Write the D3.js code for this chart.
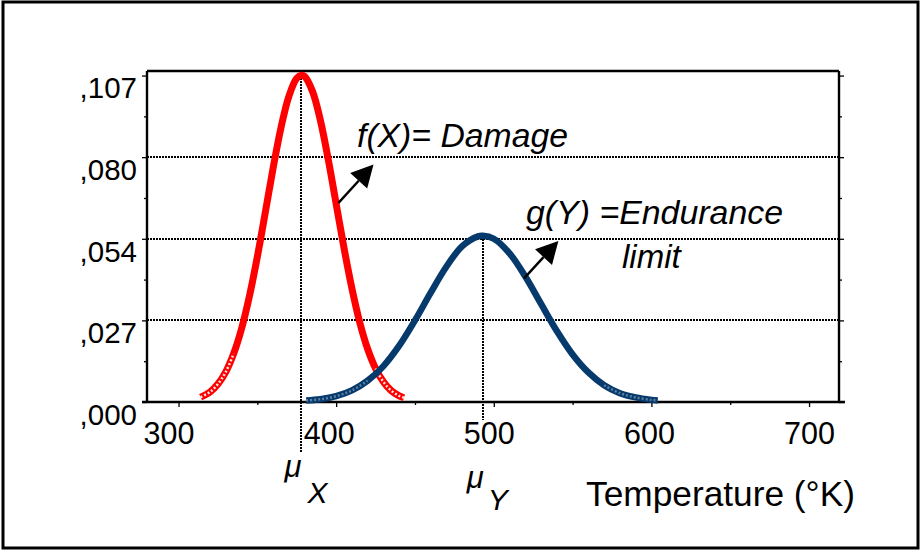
<!DOCTYPE html>
<meta charset="utf-8">
<head>
<title>damage / endurance</title>
<script src="https://d3js.org/d3.v7.min.js"></script>
<style>
body { margin: 0; background: #fff; }
text { font-family: "Liberation Sans", Arial, sans-serif; fill: #000; }
</style>
</head>
<body>

<div id="chart"></div>

<script>

const width = 920;
const height = 553;

// f(X) = Damage
const damageT = [314, 320, 325, 330, 335, 340, 345, 350, 355, 360, 365, 370, 375, 378,
  380, 385, 390, 395, 400, 405, 410, 415, 420, 425, 430, 435, 440, 443];
const damageV = [0.0016, 0.0033, 0.0059, 0.0099, 0.0159, 0.0241, 0.0348, 0.0477, 0.0621, 0.0768,
  0.0901, 0.1004, 0.1063, 0.1073, 0.1069, 0.1020, 0.0925, 0.0796, 0.0651, 0.0505,
  0.0373, 0.0261, 0.0174, 0.0110, 0.0066, 0.0037, 0.0020, 0.0014];

// g(Y) = Endurance limit
const enduranceT = [381, 390, 400, 410, 420, 430, 440, 450, 460, 470, 480, 490, 493,
  500, 510, 520, 530, 540, 550, 560, 570, 580, 590, 600, 604];
const enduranceV = [0.0005, 0.0009, 0.0019, 0.0038, 0.0070, 0.0118, 0.0185, 0.0268, 0.0359,
  0.0445, 0.0512, 0.0544, 0.0546, 0.0536, 0.0488, 0.0412, 0.0322, 0.0233, 0.0156,
  0.0097, 0.0055, 0.0029, 0.0015, 0.0007, 0.0005];

const xTicks = [300, 400, 500, 600, 700];
const xMinor = [350, 450, 550, 650];
const yTicks = [0, 0.0268, 0.0536, 0.0804, 0.1072];
const yTickLabels = [",000", ",027", ",054", ",080", ",107"];
const yMinor = [0.0134, 0.0402, 0.0670, 0.0938];
const gridValues = [0.0268, 0.0536, 0.0804];
const muX = 378;
const muY = 493;

const margin = {top: 71, right: 81, bottom: 151, left: 147};

const svg = d3.select('#chart')
  .append("svg")
  .attr("width", width)
  .attr("height", height)
  .attr("viewBox", [0, 0, width, height]);

svg.append("rect")
  .attr("width", width).attr("height", height)
  .attr("fill", "#fff");

// outer frame
svg.append("rect")
  .attr("x", 3).attr("y", 2)
  .attr("width", 915).attr("height", 546)
  .attr("fill", "none")
  .attr("stroke", "#000")
  .attr("stroke-width", 3);

const x = d3.scaleLinear()
  .domain([280, 719])
  .range([margin.left, width - margin.right]);

const y = d3.scaleLinear()
  .domain([0, 0.1087])
  .range([height - margin.bottom, margin.top]);

const x0 = x.range()[0], x1 = x.range()[1];
const yb = y.range()[0], yt = y.range()[1];

// dotted grid
svg.append("g")
  .attr("shape-rendering", "crispEdges")
  .selectAll("line")
  .data(gridValues)
  .join("line")
    .attr("x1", x0).attr("x2", x1)
    .attr("y1", d => Math.round(y(d))).attr("y2", d => Math.round(y(d)))
    .attr("stroke", "#000")
    .attr("stroke-width", 2)
    .attr("stroke-dasharray", "2 1");

// mean markers
const muLines = [
  {t: muX, top: 0.1064, bottom: -0.0168},
  {t: muY, top: 0.0536, bottom: -0.0059}
];
svg.append("g")
  .attr("shape-rendering", "crispEdges")
  .selectAll("line")
  .data(muLines)
  .join("line")
    .attr("x1", d => Math.round(x(d.t))).attr("x2", d => Math.round(x(d.t)))
    .attr("y1", d => y(d.top)).attr("y2", d => y(d.bottom))
    .attr("stroke", "#000")
    .attr("stroke-width", 2)
    .attr("stroke-dasharray", "2 1");

// axes
const tickStyle = g => {
  g.select(".domain").remove();
  g.selectAll(".tick line").attr("stroke", "#000").attr("stroke-width", 1.3);
};

svg.append("g")
  .attr("transform", `translate(${x0},0)`)
  .call(d3.axisLeft(y).tickValues(yTicks).tickSize(5).tickPadding(5)
    .tickFormat((d, i) => yTickLabels[i]))
  .call(tickStyle)
  .call(g => g.selectAll("text")
    .attr("font-size", 29.5)
    .attr("font-family", "Liberation Sans, Arial, sans-serif")
    .attr("dy", "0.76em"));

svg.append("g")
  .attr("transform", `translate(${x0},0)`)
  .call(d3.axisLeft(y).tickValues(yMinor).tickSize(3).tickFormat(""))
  .call(tickStyle);

svg.append("g")
  .attr("transform", `translate(${x1},0)`)
  .call(d3.axisRight(y).tickValues(yTicks).tickSize(5).tickFormat(""))
  .call(tickStyle);

svg.append("g")
  .attr("transform", `translate(${x1},0)`)
  .call(d3.axisRight(y).tickValues(yMinor).tickSize(3).tickFormat(""))
  .call(tickStyle);

svg.append("g")
  .attr("transform", `translate(0,${yb})`)
  .call(d3.axisBottom(x).tickValues(xTicks).tickSize(5).tickPadding(15))
  .call(tickStyle)
  .call(g => g.selectAll("text")
    .attr("font-size", 30.5)
    .attr("font-family", "Liberation Sans, Arial, sans-serif")
    .attr("dy", "0.71em")
    .attr("dx", d => -(700 - d) * 0.025));

svg.append("g")
  .attr("transform", `translate(0,${yb})`)
  .call(d3.axisBottom(x).tickValues(xMinor).tickSize(3).tickFormat(""))
  .call(tickStyle);

// box
const box = svg.append("g").attr("stroke", "#000").attr("fill", "none");
box.append("line").attr("x1", x0).attr("x2", x0).attr("y1", yt).attr("y2", yb).attr("stroke-width", 2.4);
box.append("line").attr("x1", x0).attr("x2", x1).attr("y1", yt).attr("y2", yt).attr("stroke-width", 2.4);
box.append("line").attr("x1", x1).attr("x2", x1).attr("y1", yt).attr("y2", yb).attr("stroke-width", 2.4);
box.append("line").attr("x1", x0 - 5).attr("x2", x1 + 6).attr("y1", yb).attr("y2", yb).attr("stroke-width", 2.4);

// curves
const line = d3.line()
  .x(d => x(d[0]))
  .y(d => y(d[1]))
  .curve(d3.curveCatmullRom);

const series = [
  {t: damageT, v: damageV, color: "#ff0000", w: 7},
  {t: enduranceT, v: enduranceV, color: "#063a6d", w: 6.5}
];

series.forEach(s => {
  const pts = s.t.map((t, i) => [t, s.v[i]]);
  svg.append("path")
    .datum(pts)
    .attr("d", line)
    .attr("fill", "none")
    .attr("stroke", s.color)
    .attr("stroke-width", s.w);

  // the sparse marker tails look hollow
  const peak = d3.max(s.v);
  const top = s.t[d3.maxIndex(s.v)];
  const lowL = pts.filter(p => p[1] < peak * 0.16 && p[0] < top);
  const lowR = pts.filter(p => p[1] < peak * 0.16 && p[0] > top);
  [lowL, lowR].forEach(tail => {
    svg.append("path")
      .datum(tail)
      .attr("d", line)
      .attr("fill", "none")
      .attr("stroke", "#fff")
      .attr("stroke-width", 2.5)
      .attr("stroke-dasharray", "2 2")
      .attr("opacity", s.color === "#ff0000" ? 0.9 : 0.35);
  });
});

// arrows
const arrows = [
  {from: [401.5, 0.0654], to: [423.7, 0.0780]},
  {from: [519.2, 0.0406], to: [541.0, 0.0529]}
];
arrows.forEach(a => {
  const fx = x(a.from[0]), fy = y(a.from[1]);
  const tx = x(a.to[0]), ty = y(a.to[1]);
  const ang = Math.atan2(ty - fy, tx - fx);
  const len = 22, half = 11.5;
  const bx = tx - len * Math.cos(ang), by = ty - len * Math.sin(ang);
  svg.append("line")
    .attr("x1", fx).attr("y1", fy)
    .attr("x2", bx).attr("y2", by)
    .attr("stroke", "#000").attr("stroke-width", 2.4);
  svg.append("path")
    .attr("d", d3.line()([
      [tx, ty],
      [bx + half * Math.sin(ang), by - half * Math.cos(ang)],
      [bx - half * Math.sin(ang), by + half * Math.cos(ang)]
    ]) + "Z")
    .attr("fill", "#000");
});

// labels
const labels = svg.append("g").attr("font-style", "italic");
labels.append("text")
  .attr("x", 357).attr("y", 147)
  .attr("font-size", 33)
  .attr("textLength", 211).attr("lengthAdjust", "spacingAndGlyphs")
  .text("f(X)= Damage");
labels.append("text")
  .attr("x", 526).attr("y", 224)
  .attr("font-size", 33)
  .attr("textLength", 257).attr("lengthAdjust", "spacingAndGlyphs")
  .text("g(Y) =Endurance");
labels.append("text")
  .attr("x", 622).attr("y", 268)
  .attr("font-size", 33)
  .text("limit");

labels.append("text")
  .attr("x", x(muX) - 17).attr("y", 477)
  .attr("font-size", 31)
  .text("μ");
labels.append("text")
  .attr("x", x(muX) + 6).attr("y", 503)
  .attr("font-size", 30)
  .text("X");
labels.append("text")
  .attr("x", x(muY) - 16).attr("y", 488)
  .attr("font-size", 31)
  .text("μ");
labels.append("text")
  .attr("x", x(muY) + 5).attr("y", 510)
  .attr("font-size", 30)
  .text("Y");

svg.append("text")
  .attr("x", 586).attr("y", 506)
  .attr("font-size", 35)
  .attr("textLength", 269).attr("lengthAdjust", "spacingAndGlyphs")
  .text("Temperature (°K)");

</script>

</body>
